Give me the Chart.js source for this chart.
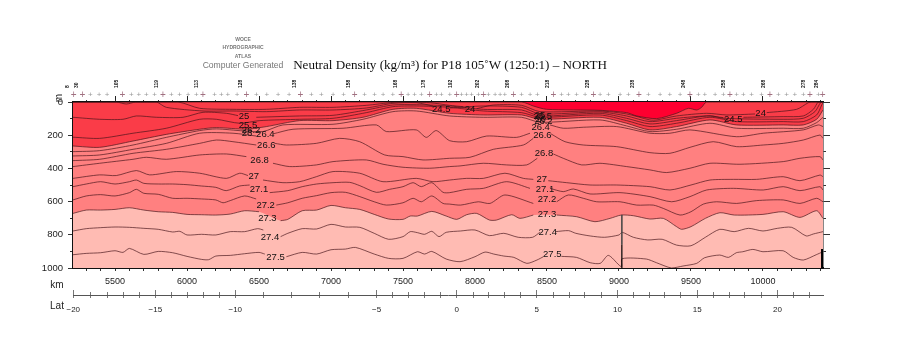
<!DOCTYPE html>
<html><head><meta charset="utf-8">
<style>html,body{margin:0;padding:0;background:#fff}canvas{display:block}</style>
<script src="https://cdn.jsdelivr.net/npm/chart.js@4"></script>
</head><body><canvas id="c" width="900" height="350"></canvas>
<script>
const kmTicks=[5300,5400,5500,5600,5700,5800,5900,6000,6100,6200,6300,6400,6500,6600,6700,6800,6900,7000,7100,7200,7300,7400,7500,7600,7700,7800,7900,8000,8100,8200,8300,8400,8500,8600,8700,8800,8900,9000,9100,9200,9300,9400,9500,9600,9700,9800,9900,10000,10100,10200,10300,10400];
const depthTicks=[0,100,200,300,400,500,600,700,800,900,1000];
const latKm=[5210,5331,5447,5558,5668,5780,5891,6002,6113,6224,6335,6530,6727,6923,7120,7317,7428,7539,7650,7757,7873,7989,8097,8208,8317,8428,8543,8654,8763,8880,8990,9099,9210,9319,9430,9543,9654,9765,9873,9990,10101,10210,10321];
const latMajorKm=[5210,5780,6335,7317,7873,8428,8990,9543,10101];
const latLabels=['\u221220','\u221215','\u221210','\u22125','0','5','10','15','20'];
const stationKm=[5213,5273,5328,5389,5444,5551,5613,5666,5717,5775,5833,5891,5949,6007,6065,6111,6192,6238,6284,6347,6412,6481,6555,6632,6708,6787,6863,6933,7014,7088,7164,7234,7303,7361,7430,7488,7535,7581,7627,7685,7731,7766,7826,7873,7907,7942,7977,8023,8058,8093,8139,8174,8208,8266,8324,8382,8433,8544,8602,8648,8706,8764,8822,8868,8926,9007,9065,9139,9204,9285,9354,9424,9493,9551,9597,9667,9725,9771,9817,9864,9921,9991,10049,10107,10164,10222,10280,10327,10384,10415];
const stationLabelKm=[5213,5273,5551,5833,6111,6412,6787,7164,7488,7685,7873,8058,8266,8544,8822,9139,9493,9771,10049,10327,10415];
const stationLabels=['8','30','105','119','113','128','138','158','168','178','192','202','208','218','228','238','248','258','268','278','284'];

const k235=[5208,8324,8405,8498,8868,9053,9123,9262,9400,9482,9540,9574,9609,10417];
const d235=[0,0,24,44,50,64,84,100,68,38,48,32,0,0];
const k24=[5208,5937,6088,6319,6551,6782,7014,7245,7430,7477,7685,7824,7919,7965,8012,8127,8324,8451,8868,9053,9215,9262,9400,9609,9748,9945,9984,10026,10234,10315,10338,10417];
const d24=[0,0,38,44,44,32,32,20,2,0,4,20,28,null,40,18,20,58,54,72,108,108,84,68,78,72,null,64,44,4,0,0];
const k245=[5208,5509,5578,5643,5787,5856,6111,6319,6551,6782,7014,7245,7430,7592,7708,7766,7826,8058,8324,8451,8868,9053,9215,9400,9609,9725,9794,9864,10141,10280,10350,10384,10417];
const d245=[0,0,12,0,0,32,54,54,58,48,48,36,8,4,24,null,36,24,32,72,60,84,118,98,84,94,null,92,88,84,44,0,0];
const k25=[5208,5393,5555,5648,5787,5972,6111,6273,6354,6396,6481,6782,7014,7245,7430,7592,7824,8058,8324,8451,8868,9053,9215,9400,9632,9725,10141,10280,10361,10400,10417];
const d25=[92,104,104,84,92,92,62,68,82,null,92,84,80,48,18,16,24,44,48,84,68,98,132,112,82,98,104,98,58,4,0];
const k255=[5208,5393,5625,5856,6088,6204,6366,6505,6782,7014,7245,7430,7592,7824,8058,8324,8451,8868,9053,9215,9400,9632,9817,10141,10280,10373,10408,10417];
const d255=[212,219,188,158,104,104,128,112,104,98,64,28,24,32,54,64,92,78,112,148,128,92,118,118,118,78,18,4];
const k26=[5208,5393,5625,5856,6088,6204,6412,6551,6782,7014,7222,7430,7592,7824,8058,8324,8451,8868,9053,9215,9400,9632,9817,10141,10280,10373,10417];
const d26=[265,273,235,195,164,154,164,148,112,112,92,44,38,68,78,78,104,92,128,168,148,108,138,138,138,104,48];
const k262=[5208,5393,5625,5856,6088,6204,6389,6528,6666,7014,7222,7430,7592,7824,8058,8324,8451,8868,9053,9215,9400,9632,9817,10141,10280,10373,10417];
const d262=[299,293,259,213,172,162,174,178,138,134,104,58,54,84,92,92,122,108,144,178,164,128,158,158,158,124,92];
const k264=[5208,5393,5625,5856,6088,6319,6481,6545,6597,6736,7083,7315,7384,7592,7662,7731,7824,7942,8081,8289,8382,8455,8521,8613,8752,8984,9215,9354,9493,9817,10002,10280,10384,10417];
const d264=[325,319,285,249,188,188,205,null,192,164,158,138,178,168,213,172,233,239,205,213,188,null,138,158,152,148,188,188,168,209,188,168,138,148];
const k266=[5208,5393,5625,5856,6088,6204,6319,6481,6550,6609,6690,6898,7060,7199,7373,7500,7639,7824,7965,8127,8336,8405,8465,8528,8625,8752,8984,9215,9354,9493,9655,9817,10002,10141,10280,10396,10417];
const d266=[353,345,309,285,249,229,239,259,null,249,259,249,219,239,319,329,349,339,333,285,259,219,null,192,239,259,269,305,309,273,239,269,259,249,229,199,219];
const k268=[5208,5393,5625,5717,5856,6088,6273,6412,6500,6597,6713,6898,7014,7245,7361,7500,7685,7824,7896,8058,8220,8359,8433,8480,8544,8613,8741,8868,9053,9215,9331,9493,9632,9840,10141,10257,10396,10417];
const d268=[389,369,345,333,345,319,313,329,null,369,389,379,359,349,375,393,399,389,385,369,379,379,339,null,313,339,379,369,389,409,425,399,369,375,359,339,329,349];
const k27=[5208,5393,5509,5648,5740,5926,6088,6273,6366,6423,6465,6528,6666,6782,6898,7014,7199,7361,7592,7708,7824,7942,8058,8208,8336,8405,8450,8509,8637,8799,8984,9215,9354,9500,9632,9794,9956,10141,10257,10396,10417];
const d27=[460,439,443,413,439,419,429,460,429,443,null,470,486,480,450,419,429,480,460,480,470,460,460,429,460,466,null,474,486,500,500,510,530,500,470,466,466,450,474,440,450];
const k271=[5208,5300,5400,5500,5600,5648,5700,5800,5900,6000,6100,6200,6272,6365,6435,6500,6574,6700,6800,6900,7014,7130,7200,7315,7407,7500,7570,7627,7700,7778,7824,7942,8058,8220,8382,8470,8521,8613,8683,8799,9007,9215,9366,9493,9609,9794,10002,10141,10257,10396,10417];
const d271=[510,494,480,494,480,470,490,494,494,498,506,514,534,506,500,null,546,534,510,494,486,484,504,544,526,510,486,510,486,544,546,526,520,480,520,null,520,540,524,554,546,570,601,570,530,520,530,510,534,510,530];
const k272=[5208,5300,5400,5500,5600,5648,5700,5800,5900,6000,6100,6200,6250,6300,6400,6480,6550,6620,6700,6800,6900,7000,7100,7200,7300,7385,7500,7570,7627,7700,7778,7824,7900,8023,8104,8208,8405,8490,8567,8648,8752,8845,9007,9123,9238,9308,9424,9500,9586,9678,9817,9956,10141,10257,10373,10417];
const d272=[590,566,558,566,546,526,550,556,580,580,584,590,607,594,566,584,null,621,607,580,564,546,544,570,601,621,607,580,601,566,611,615,621,601,611,560,611,null,601,560,580,601,601,621,621,641,681,661,615,601,611,594,590,611,580,601];
const k273=[5208,5300,5400,5500,5600,5700,5800,5900,6000,6100,6200,6300,6400,6500,6570,6650,6700,6800,6900,7000,7100,7200,7300,7400,7500,7550,7600,7700,7800,7873,7942,8012,8100,8150,8255,8312,8405,8500,8567,8706,8833,8938,9016,9100,9215,9308,9400,9435,9500,9600,9701,9801,10000,10141,10257,10373,10417];
const d273=[671,651,651,647,637,651,661,665,677,679,681,675,655,661,null,715,707,655,651,623,637,647,677,705,707,687,687,659,687,707,679,671,711,711,679,701,681,null,681,691,721,701,681,685,705,701,751,767,751,701,667,681,677,661,695,655,701];
const k274=[5208,5300,5400,5500,5600,5700,5800,5900,5950,6000,6100,6200,6300,6400,6490,6530,6590,6650,6700,6800,6900,7000,7100,7200,7300,7400,7500,7550,7600,7650,7700,7750,7800,7900,8000,8100,8200,8300,8400,8450,8510,8560,8650,8700,8800,8900,9000,9022,9100,9200,9300,9400,9500,9600,9700,9800,9900,10000,10100,10200,10300,10350,10417];
const d274=[777,763,757,753,755,761,767,783,779,801,797,801,781,781,763,771,null,811,791,763,765,737,753,755,791,827,811,781,787,797,779,811,785,777,771,805,791,815,815,785,null,781,775,791,807,815,801,785,815,831,827,862,866,815,767,781,761,777,761,755,807,795,781];
const k275=[5208,5300,5400,5500,5555,5600,5700,5800,5900,6000,6100,6150,6200,6300,6400,6500,6540,6620,6690,6800,6900,7000,7100,7170,7300,7400,7500,7600,7650,7700,7800,7896,8000,8070,8130,8200,8270,8360,8430,8475,8540,8600,8705,8800,8870,8926,9000,9018,9022,9190,9260,9365,9445,9540,9595,9700,9760,9815,9860,9930,10000,10140,10210,10280,10370,10417];
const d275=[920,912,908,896,906,882,918,900,908,930,948,950,928,924,914,906,916,null,932,906,916,890,886,876,916,942,942,902,916,900,946,962,932,904,916,928,936,972,952,932,null,930,936,968,972,924,982,992,944,946,968,1000,988,972,938,922,936,908,902,888,902,896,936,952,920,902];
const bottomKmA=[9020,9020];const bottomDepthA=[680,860];
const bottomKmB=[9020,9020];const bottomDepthB=[860,1000];
const bottomKmC=[10412,10412];const bottomDepthC=[885,1000];

const contours=[[k235,d235],[k24,d24],[k245,d245],[k25,d25],[k255,d255],[k26,d26],[k262,d262],[k264,d264],[k266,d266],[k268,d268],[k27,d27],[k271,d271],[k272,d272],[k273,d273],[k274,d274],[k275,d275]];
const labelText=['25','25.5','26','26.2','26.4','26.6','26.8','27','27.1','27.2','27.3','27.4','27.5','24.5','24','25','25.5','26','26.2','26.4','26.6','26.8','27','27.1','27.2','27.3','27.4','27.5','24.5','24'];
const labelKm=[6396,6423,6416,6445,6544,6551,6504,6463,6500,6546,6558,6576,6615,7766,7965,8451,8470,8455,8475,8456,8468,8479,8463,8486,8500,8500,8505,8537,9794,9984];
const labelDepth=[88,140,188,172,192,259,349,450,524,621,699,815,938,44,42,78,88,104,118,152,198,309,464,524,586,677,785,916,102,68];

const pts=(k,d)=>k.map((x,i)=>({x,y:d[i]}));
const solid=(k,d)=>pts(k,d).filter(p=>p.y!==null);
const base={pointRadius:0,borderWidth:0,tension:0.25};
const bandFill=(k,d,c,o)=>({...base,data:solid(k,d),backgroundColor:c,fill:{value:1000},order:o,label:'band'});
const datasets=[
 {...base,data:[{x:5208,y:0},{x:10417,y:0}],backgroundColor:'#ff0030',fill:{value:1000},order:100,label:'surface'},
 bandFill(k235,d235,'#fa3c48',99),
 bandFill(k26,d26,'#ff8080',98),
 bandFill(k273,d273,'#ffbbb3',97),
 ...contours.map(([k,d],i)=>({...base,data:pts(k,d),borderColor:'rgba(70,20,25,0.85)',borderWidth:0.8,fill:false,order:50-i,label:'c'+i})),
 {...base,data:pts(bottomKmA,bottomDepthA),borderColor:'#444',borderWidth:0.8,fill:false,order:1,tension:0,label:'bottom'},
 {...base,data:pts(bottomKmB,bottomDepthB),borderColor:'#000',borderWidth:1.2,fill:false,order:1,tension:0,label:'bottom'},
 {...base,data:pts(bottomKmC,bottomDepthC),borderColor:'#000',borderWidth:2.5,fill:false,order:1,tension:0,label:'bottom'}
];
const fixH=h=>s=>{s.height=h};
const fixW=w=>s=>{s.width=w};
const sans='"Liberation Sans"';
function xs(o){return Object.assign({type:'linear',min:5208,max:10417,z:1,grid:{drawOnChartArea:false,tickColor:'#333',tickLength:3,tickWidth:1},border:{display:false},ticks:{display:false,autoSkip:false,maxRotation:0}},o)}
function ys(o){return Object.assign({type:'linear',min:0,max:1000,reverse:true,z:1,grid:{drawOnChartArea:false,tickColor:'#333',tickLength:3,tickWidth:1},border:{display:false},ticks:{display:false,autoSkip:false}},o)}
const setT=a=>s=>{s.ticks=a.map(value=>({value}))};
const majors500=kmTicks.filter(v=>v%500===0);
const depth200=depthTicks.filter(v=>v%200===0);
const isStLab=c=>!!(c.tick&&stationLabelKm.includes(c.tick.value));
const labelPlugin={id:'contourLabels',afterDraw(ch){
 const c=ch.ctx,X=ch.scales.x,Y=ch.scales.y;
 c.save();c.textAlign='center';c.textBaseline='middle';c.fillStyle='#111';c.font='9.5px '+sans;
 labelText.forEach((t,i)=>c.fillText(t,X.getPixelForValue(labelKm[i]),Y.getPixelForValue(labelDepth[i])));
 c.fillStyle='#222';c.font='10px '+sans;
 c.fillText('km',57,285);c.fillText('Lat',57,306);
 c.save();c.translate(59,98);c.rotate(-Math.PI/2);c.fillText('m',0,0);c.restore();
 c.fillStyle='#777';c.font='8.6px '+sans;c.fillText('Computer Generated',243,66);
 c.font='bold 5px '+sans;c.fillText('WOCE',243,40);c.fillText('HYDROGRAPHIC',243,48);c.fillText('ATLAS',243,57);
 c.restore();
}};
new Chart(document.getElementById('c'),{type:'line',data:{datasets},plugins:[labelPlugin],options:{
 responsive:false,animation:false,events:[],
 layout:{padding:0},
 plugins:{legend:{display:false},tooltip:{enabled:false},
  title:{display:true,text:'Neutral Density (kg/m\u00b3) for P18 105\u02daW (1250:1) \u2013 NORTH',color:'#111',font:{family:'"Liberation Serif"',size:13.1,weight:'normal'},padding:{top:58,bottom:6.3}}},
 scales:{
  x:xs({position:'bottom',weight:0,border:{display:true,color:'#111',width:2},afterBuildTicks:setT(kmTicks),afterFit:fixH(22),
    ticks:{display:true,autoSkip:false,maxRotation:0,minRotation:0,color:'#222',font:{family:sans,size:9},padding:5,callback:v=>v%500===0?String(v):''}}),
  latMajor:xs({position:'bottom',weight:1,afterBuildTicks:setT(latMajorKm),afterFit:fixH(2),grid:{drawOnChartArea:false,tickColor:'#777',tickLength:2}}),
  latMinor:xs({position:'bottom',weight:2,afterBuildTicks:setT(latKm),afterFit:fixH(3),grid:{drawOnChartArea:false,tickColor:'#777',tickLength:3}}),
  lat:xs({position:'bottom',weight:3,border:{display:true,color:'#555',width:1},afterBuildTicks:setT(latKm),afterFit:fixH(55),grid:{drawOnChartArea:false,tickColor:'#777',tickLength:3},
    ticks:{display:true,autoSkip:false,maxRotation:0,minRotation:0,color:'#222',font:{family:sans,size:8},padding:7,callback:v=>{const i=latMajorKm.indexOf(v);return i<0?'':latLabels[i]}}}),
  topMinor:xs({position:'top',weight:0,border:{display:true,color:'#111',width:1.5},afterBuildTicks:setT(kmTicks),afterFit:fixH(2),grid:{drawOnChartArea:false,tickColor:'#333',tickLength:2}}),
  topMajor:xs({position:'top',weight:1,afterBuildTicks:setT(majors500),afterFit:fixH(4),grid:{drawOnChartArea:false,tickColor:'#222',tickLength:4}}),
  topPlus:xs({position:'top',weight:2,afterBuildTicks:setT(stationKm),afterFit:fixH(6),grid:{display:false,drawTicks:false},
    ticks:{display:true,mirror:true,autoSkip:false,maxRotation:0,minRotation:0,padding:-6,color:c=>isStLab(c)?'#a07080':'#999',font:c=>isStLab(c)?{family:sans,size:10,lineHeight:0.96}:{family:sans,size:8,lineHeight:1.2},callback:()=>'+'}}),
  topNum:xs({position:'top',weight:3,afterBuildTicks:setT(stationLabelKm),afterFit:fixH(10),grid:{display:false,drawTicks:false},
    ticks:{display:true,autoSkip:false,maxRotation:90,minRotation:90,padding:2,color:'#111',font:{family:sans,size:5,weight:'bold'},callback:(v)=>stationLabels[stationLabelKm.indexOf(v)]}}),
  y:ys({position:'left',weight:0,border:{display:true,color:'#111',width:2},afterBuildTicks:setT(depthTicks),afterFit:fixW(3),grid:{drawOnChartArea:false,tickColor:'#333',tickLength:3}}),
  yLab:ys({position:'left',weight:1,afterBuildTicks:setT(depth200),afterFit:fixW(70),grid:{drawOnChartArea:false,tickColor:'#333',tickLength:2},
    ticks:{display:true,autoSkip:false,color:'#222',font:{family:sans,size:9.5},padding:5,callback:v=>String(v)}}),
  yR:ys({position:'right',weight:0,border:{display:true,color:'#111',width:1.5},afterBuildTicks:setT(depthTicks),afterFit:fixW(3),grid:{drawOnChartArea:false,tickColor:'#333',tickLength:3}}),
  yR2:ys({position:'right',weight:1,afterBuildTicks:setT(depth200),afterFit:fixW(74),grid:{drawOnChartArea:false,tickColor:'#333',tickLength:4}})
 }}});
</script></body></html>
